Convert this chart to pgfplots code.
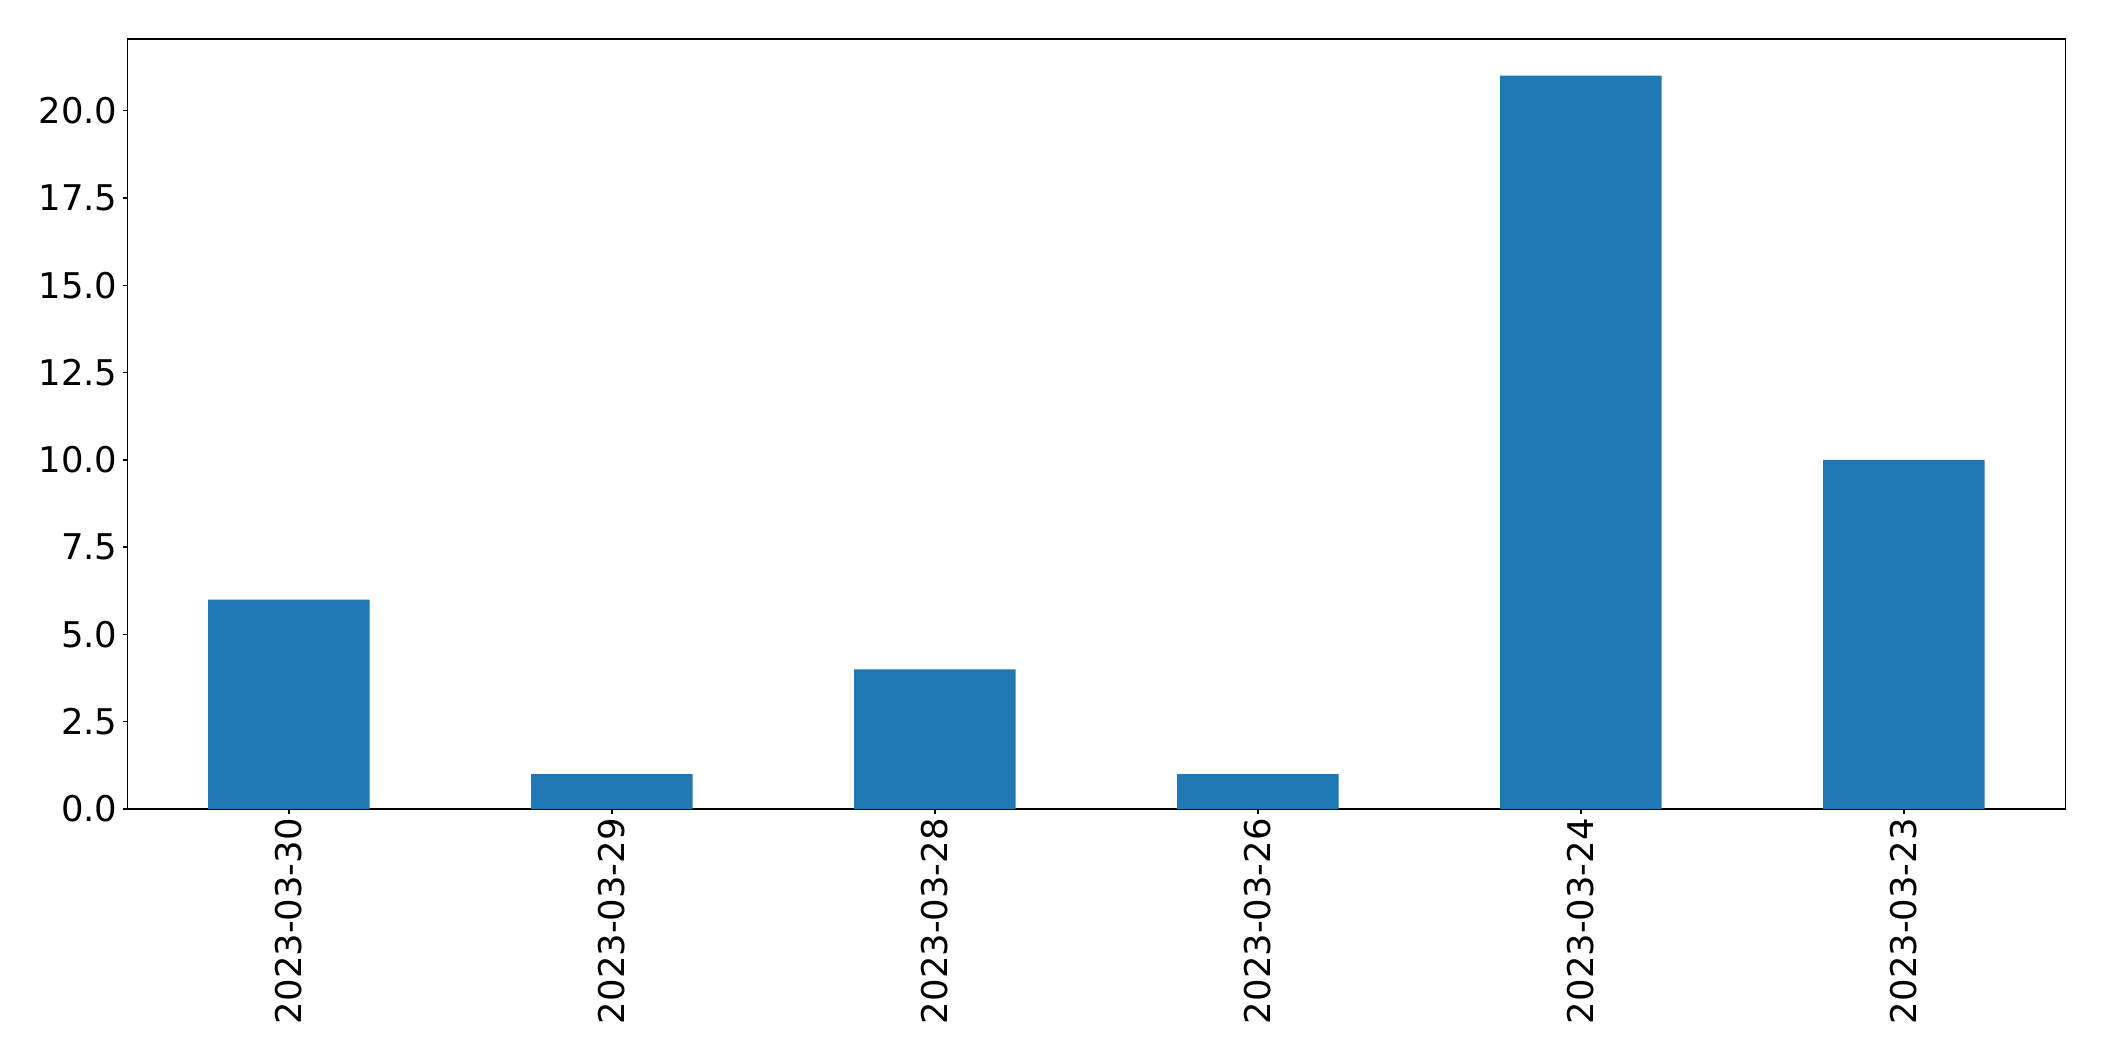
\documentclass[border=0pt]{standalone}
\usepackage{fontspec}
\setmainfont{DejaVu Sans}
\usepackage{pgfplots}
\pgfplotsset{compat=1.18}
\definecolor{mplblue}{HTML}{1F77B4}
\begin{document}
\begin{tikzpicture}
\path[use as bounding box] (-91.7pt,-181.4pt) rectangle (1423.2pt,582.5pt);
\begin{axis}[
  at={(0,0)}, anchor=south west,
  scale only axis,
  width=1395.4pt, height=554.4pt,
  xmin=-0.5, xmax=5.5,
  ymin=0, ymax=22.05,
  xtick={0,1,2,3,4,5},
  xticklabels={2023-03-30,2023-03-29,2023-03-28,2023-03-26,2023-03-24,2023-03-23},
  ytick={0,2.5,5,7.5,10,12.5,15,17.5,20},
  /pgf/number format/fixed,
  /pgf/number format/fixed zerofill,
  /pgf/number format/precision=1,
  /pgf/number format/assume math mode=true,
  tick label style={font=\fontsize{25.5}{30}\selectfont},
  xticklabel style={rotate=90, anchor=east, inner sep=3pt},
  yticklabel style={inner sep=3.5pt},
  tick align=outside,
  xtick pos=left, ytick pos=left,
  major tick length=3.4pt,
  tick style={black, line width=1.0pt},
  axis line style={black, line width=1.0pt},
  ybar, bar width=0.5,
]
\addplot[fill=mplblue, draw=none] coordinates {(0,6) (1,1) (2,4) (3,1) (4,21) (5,10)};
\end{axis}
\end{tikzpicture}
\end{document}
